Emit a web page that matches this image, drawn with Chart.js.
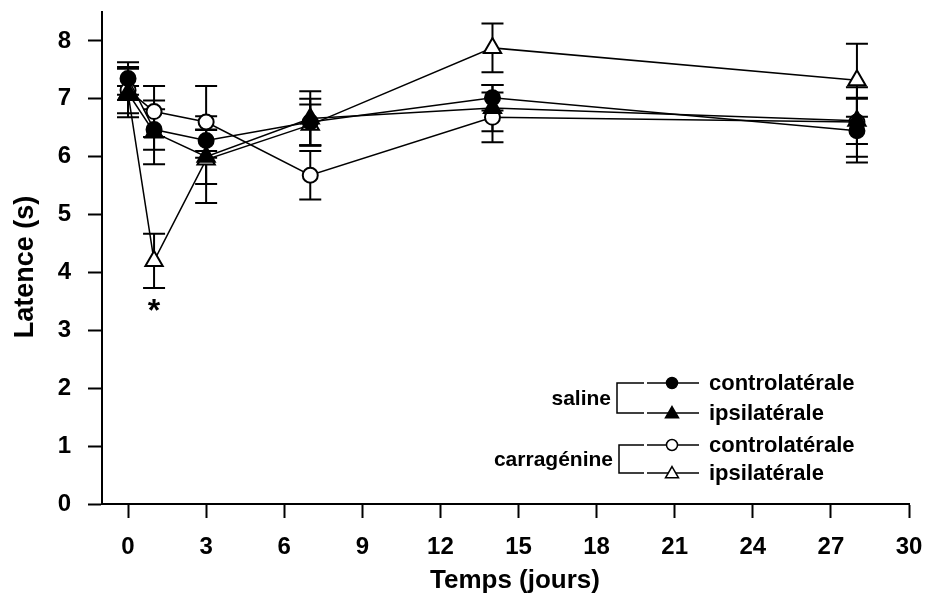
<!DOCTYPE html>
<html>
<head>
<meta charset="utf-8">
<script src="https://cdn.jsdelivr.net/npm/chart.js@4.4.1/dist/chart.umd.min.js"></script>
<style>
  body { margin: 0; background: #fff; }
  #wrap { width: 929px; height: 601px; }
</style>
</head>
<body>
<div id="wrap"><canvas id="graphCanvas" width="929" height="601"></canvas></div>
<script>
// jours de mesure
const days = [0, 1, 3, 7, 14, 28];
const xTicks = [0, 3, 6, 9, 12, 15, 18, 21, 24, 27, 30];
const yTicks = [0, 1, 2, 3, 4, 5, 6, 7, 8];

// moyennes et erreurs (s)
const salineContra = [7.35, 6.47, 6.28, 6.60, 7.02, 6.45];
const salineContraErr = [0.28, 0.35, 0.18, 0.40, 0.22, 0.55];
const salineIpsi = [7.10, 6.42, 6.00, 6.66, 6.84, 6.62];
const salineIpsiErr = [0.42, 0.55, 0.47, 0.47, 0.40, 0.40];
const carraContra = [7.15, 6.78, 6.60, 5.68, 6.68, 6.60];
const carraContraErr = [0.40, 0.44, 0.62, 0.42, 0.43, 0.60];
const carraIpsi = [7.10, 4.20, 5.95, 6.55, 7.88, 7.32];
const carraIpsiErr = [0.12, 0.47, 0.75, 0.35, 0.42, 0.63];

// astérisque (différence significative)
const starDay = 1;
const starValue = 3.38;

const FONT = "'Liberation Sans', Arial, sans-serif";
Chart.defaults.font.family = FONT;

function toPoints(values) {
  return values.map((v, i) => ({ x: days[i], y: v }));
}

// barres d'erreur sous les marqueurs
const errorBarsPlugin = {
  id: 'errorBars',
  beforeDatasetsDraw(chart) {
    const { ctx, scales } = chart;
    const cap = 11;
    ctx.save();
    ctx.strokeStyle = '#000';
    ctx.lineWidth = 2;
    chart.data.datasets.forEach(ds => {
      ds.data.forEach((p, i) => {
        const e = ds.errors[i];
        const px = scales.x.getPixelForValue(p.x);
        const top = scales.y.getPixelForValue(p.y + e);
        const bot = scales.y.getPixelForValue(p.y - e);
        ctx.beginPath();
        ctx.moveTo(px, top);
        ctx.lineTo(px, bot);
        ctx.moveTo(px - cap, top);
        ctx.lineTo(px + cap, top);
        ctx.moveTo(px - cap, bot);
        ctx.lineTo(px + cap, bot);
        ctx.stroke();
      });
    });
    ctx.restore();
  }
};

function marker(ctx, kind, x, y, r) {
  ctx.beginPath();
  if (kind === 'circle') {
    ctx.arc(x, y, r, 0, Math.PI * 2);
  } else {
    ctx.moveTo(x, y - r);
    ctx.lineTo(x + r * 0.866, y + r * 0.5);
    ctx.lineTo(x - r * 0.866, y + r * 0.5);
    ctx.closePath();
  }
}

// légende, titres d'axes et astérisque
const extrasPlugin = {
  id: 'extras',
  afterDraw(chart) {
    const { ctx, scales } = chart;
    ctx.save();
    ctx.fillStyle = '#000';
    ctx.strokeStyle = '#000';

    // astérisque
    ctx.font = `bold 32px ${FONT}`;
    ctx.textAlign = 'center';
    ctx.textBaseline = 'alphabetic';
    ctx.fillText('*', scales.x.getPixelForValue(starDay), scales.y.getPixelForValue(starValue) + 13);

    // titres d'axes
    ctx.font = `bold 26px ${FONT}`;
    ctx.textBaseline = 'middle';
    ctx.fillText('Temps (jours)', 515, 581);
    ctx.save();
    ctx.translate(26, 267);
    ctx.rotate(-Math.PI / 2);
    ctx.font = `bold 27px ${FONT}`;
    ctx.fillText('Latence (s)', 0, 0);
    ctx.restore();

    // légende
    const groups = [
      { name: 'saline', bx: 617, rows: [
        { y: 383, kind: 'circle', fill: '#000', label: 'controlatérale' },
        { y: 413, kind: 'triangle', fill: '#000', label: 'ipsilatérale' }] },
      { name: 'carragénine', bx: 619, rows: [
        { y: 445, kind: 'circle', fill: '#fff', label: 'controlatérale' },
        { y: 473, kind: 'triangle', fill: '#fff', label: 'ipsilatérale' }] }
    ];
    groups.forEach(g => {
      const y0 = g.rows[0].y, y1 = g.rows[1].y;
      ctx.lineWidth = 1.5;
      ctx.beginPath();
      ctx.moveTo(644, y0);
      ctx.lineTo(g.bx, y0);
      ctx.lineTo(g.bx, y1);
      ctx.lineTo(644, y1);
      ctx.stroke();
      ctx.font = `bold 21px ${FONT}`;
      ctx.textAlign = 'right';
      ctx.textBaseline = 'alphabetic';
      ctx.fillText(g.name, g.bx - 6, (y0 + y1) / 2 + 7);
      ctx.font = `bold 22px ${FONT}`;
      g.rows.forEach(r => {
        ctx.lineWidth = 1.5;
        ctx.beginPath();
        ctx.moveTo(647, r.y);
        ctx.lineTo(699, r.y);
        ctx.stroke();
        marker(ctx, r.kind, 672, r.kind === 'circle' ? r.y : r.y + 1, r.kind === 'circle' ? 5.5 : 7.5);
        ctx.fillStyle = r.fill;
        ctx.fill();
        ctx.stroke();
        ctx.fillStyle = '#000';
        ctx.textAlign = 'left';
        ctx.fillText(r.label, 709, r.y + 7);
      });
    });
    ctx.restore();
  }
};

function series(values, errors, style, fill) {
  return {
    data: toPoints(values),
    errors: errors,
    borderColor: '#000',
    borderWidth: 1.5,
    showLine: true,
    fill: false,
    tension: 0,
    pointStyle: style,
    pointRadius: style === 'circle' ? 7.5 : 10,
    pointBackgroundColor: fill,
    pointBorderColor: '#000',
    pointBorderWidth: 2
  };
}

// pas de marge automatique autour de la zone du graphe
function noPadding(axis) {
  axis.paddingTop = 0;
  axis.paddingBottom = 0;
  axis.paddingLeft = 0;
  axis.paddingRight = 0;
}

const ctx = document.getElementById('graphCanvas').getContext('2d');
new Chart(ctx, {
  type: 'scatter',
  data: {
    datasets: [
      series(salineContra, salineContraErr, 'circle', '#000'),
      series(salineIpsi, salineIpsiErr, 'triangle', '#000'),
      series(carraContra, carraContraErr, 'circle', '#fff'),
      series(carraIpsi, carraIpsiErr, 'triangle', '#fff')
    ]
  },
  options: {
    responsive: false,
    animation: false,
    layout: { padding: { top: 10, right: 20, left: 0, bottom: 0 } },
    plugins: { legend: { display: false }, tooltip: { enabled: false } },
    scales: {
      x: {
        type: 'linear',
        min: -1,
        max: 30,
        afterBuildTicks: axis => { axis.ticks = xTicks.map(v => ({ value: v })); },
        afterFit: axis => { axis.height = 97; noPadding(axis); },
        border: { color: '#000', width: 2 },
        grid: { display: true, drawOnChartArea: false, drawTicks: true, tickLength: 14, tickWidth: 2, tickColor: '#000' },
        ticks: { color: '#000', padding: 15, maxRotation: 0, autoSkip: false, font: { size: 24, weight: 'bold' } }
      },
      y: {
        min: 0,
        max: 8.5,
        afterBuildTicks: axis => { axis.ticks = yTicks.map(v => ({ value: v })); },
        afterFit: axis => { axis.width = 102; noPadding(axis); },
        border: { color: '#000', width: 2 },
        grid: { display: true, drawOnChartArea: false, drawTicks: true, tickLength: 14, tickWidth: 2, tickColor: '#000' },
        ticks: { color: '#000', padding: 17, autoSkip: false, font: { size: 24, weight: 'bold' } }
      }
    }
  },
  plugins: [errorBarsPlugin, extrasPlugin]
});
</script>
</body>
</html>
